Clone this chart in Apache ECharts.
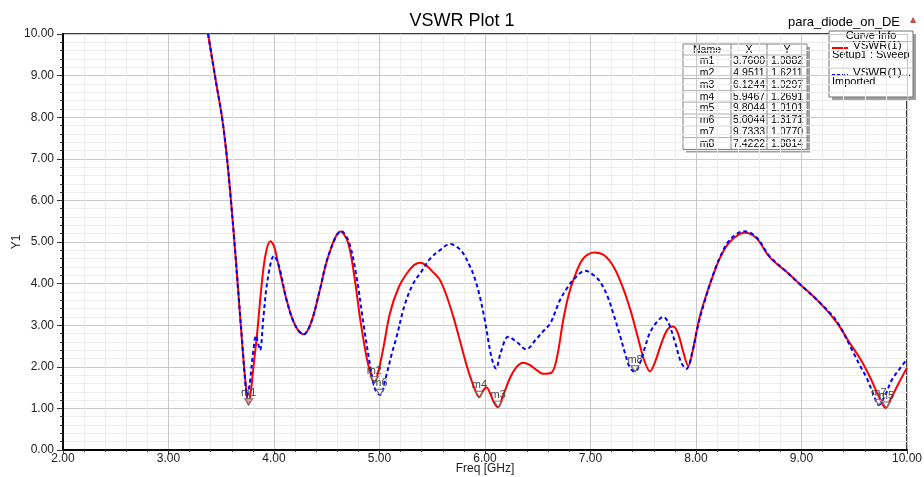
<!DOCTYPE html>
<html>
<head>
<meta charset="utf-8">
<script src="https://cdn.jsdelivr.net/npm/echarts@6/dist/echarts.min.js"></script>
<style>
  html, body { margin: 0; padding: 0; background: #fff; }
  #chart { width: 924px; height: 477px; }
</style>
</head>
<body>
<div id="chart"></div>
<script>
const seriesNames = ['VSWR(1)', 'VSWR(1)...'];
const seriesSources = ['Setup1 : Sweep', 'Imported'];

// [freq GHz, VSWR]
const sweepCurve = [
  [3.375, 10.0], [3.45, 8.85], [3.51, 7.95], [3.555, 7.0], [3.59, 6.05], [3.625, 5.0],
  [3.66, 3.85], [3.70, 2.5], [3.735, 1.5], [3.757, 1.09], [3.78, 1.4], [3.81, 2.1],
  [3.84, 2.8], [3.88, 3.9], [3.92, 4.7], [3.965, 5.02], [4.00, 4.9], [4.05, 4.35],
  [4.12, 3.6], [4.20, 3.0], [4.28, 2.78], [4.35, 3.05], [4.43, 3.8], [4.52, 4.7],
  [4.63, 5.25], [4.70, 5.0], [4.76, 4.2], [4.82, 3.1], [4.88, 2.2], [4.93, 1.7],
  [4.951, 1.62], [4.99, 1.9], [5.04, 2.5], [5.10, 3.3], [5.18, 3.9], [5.26, 4.25],
  [5.33, 4.45], [5.39, 4.5], [5.45, 4.42], [5.51, 4.27], [5.57, 4.1], [5.63, 3.75],
  [5.70, 3.2], [5.76, 2.65], [5.83, 2.0], [5.89, 1.55], [5.947, 1.27], [5.98, 1.42],
  [6.015, 1.50], [6.05, 1.35], [6.09, 1.12], [6.124, 1.03], [6.17, 1.3], [6.24, 1.75],
  [6.30, 2.0], [6.36, 2.1], [6.42, 2.05], [6.49, 1.92], [6.55, 1.83], [6.63, 1.86],
  [6.68, 2.2], [6.74, 3.1], [6.79, 3.7], [6.84, 4.1], [6.93, 4.6], [7.04, 4.75],
  [7.13, 4.68], [7.22, 4.4], [7.30, 3.95], [7.38, 3.35], [7.45, 2.7], [7.51, 2.15],
  [7.564, 1.89], [7.61, 2.1], [7.67, 2.55], [7.73, 2.9], [7.785, 2.97],
  [7.83, 2.8], [7.88, 2.35], [7.927, 2.02], [7.97, 2.4], [8.03, 3.15], [8.10, 3.75],
  [8.17, 4.25], [8.23, 4.63], [8.32, 5.0], [8.46, 5.22], [8.57, 5.1], [8.70, 4.63],
  [8.85, 4.3], [9.00, 3.95], [9.17, 3.55], [9.333, 3.07], [9.45, 2.6], [9.555, 2.2],
  [9.65, 1.75], [9.73, 1.3], [9.798, 1.01], [9.85, 1.25], [9.92, 1.6], [10.0, 1.98]
];

const importedCurve = [
  [3.375, 10.0], [3.45, 8.85], [3.51, 7.95], [3.555, 7.0], [3.59, 6.05], [3.625, 5.0],
  [3.66, 3.85], [3.70, 2.55], [3.725, 1.7], [3.745, 1.3], [3.77, 1.6], [3.80, 2.3],
  [3.83, 2.75], [3.85, 2.55], [3.868, 2.4], [3.90, 3.2], [3.94, 4.1], [4.00, 4.67],
  [4.05, 4.4], [4.12, 3.6], [4.20, 3.0], [4.28, 2.78], [4.35, 3.05], [4.43, 3.8],
  [4.52, 4.7], [4.64, 5.26], [4.71, 5.0], [4.78, 4.2], [4.85, 3.0], [4.92, 1.9],
  [4.96, 1.45], [5.004, 1.32], [5.06, 1.75], [5.12, 2.35], [5.16, 2.7], [5.24, 3.5],
  [5.32, 4.0], [5.40, 4.3], [5.48, 4.6], [5.57, 4.8], [5.67, 4.95], [5.75, 4.85],
  [5.80, 4.7], [5.86, 4.4], [5.90, 4.15], [5.95, 3.7], [6.00, 3.1], [6.06, 2.25],
  [6.104, 1.96], [6.15, 2.35], [6.22, 2.72], [6.30, 2.6], [6.39, 2.42], [6.48, 2.65],
  [6.55, 2.85], [6.62, 3.05], [6.71, 3.6], [6.78, 3.9], [6.84, 4.1], [6.95, 4.31],
  [7.03, 4.2], [7.09, 4.05], [7.16, 3.7], [7.22, 3.25], [7.28, 2.75], [7.33, 2.3],
  [7.37, 2.0], [7.42, 1.88], [7.47, 2.1], [7.52, 2.5], [7.56, 2.8], [7.62, 3.05],
  [7.69, 3.2], [7.74, 3.05], [7.80, 2.6], [7.86, 2.1], [7.91, 1.95], [7.96, 2.3],
  [8.02, 3.0], [8.08, 3.55], [8.16, 4.2], [8.23, 4.65], [8.32, 5.05], [8.455, 5.26],
  [8.57, 5.12], [8.70, 4.65], [8.85, 4.3], [9.00, 3.95], [9.17, 3.55], [9.333, 3.1],
  [9.49, 2.35], [9.56, 2.0], [9.62, 1.72], [9.68, 1.35], [9.733, 1.08], [9.79, 1.3],
  [9.86, 1.7], [9.93, 1.95], [10.0, 2.18]
];

// markers: name, X, Y, curve index (0 = sweep, 1 = imported)
const markerNames = ['m1', 'm2', 'm3', 'm4', 'm5', 'm6', 'm7', 'm8'];
const markerX = [3.7600, 4.9511, 6.1244, 5.9467, 9.8044, 5.0044, 9.7333, 7.4222];
const markerY = [1.0882, 1.6211, 1.0297, 1.2691, 1.0101, 1.3171, 1.0770, 1.8814];
const markerCurve = [0, 0, 0, 0, 0, 1, 1, 1];

const font = 'Liberation Sans, Arial, sans-serif';
const downTriangle = 'path://M0,0 L10,0 L5,8 Z';

const markPointsFor = (idx) => ({
  symbol: downTriangle,
  symbolSize: [8, 6],
  symbolOffset: [0, -3],
  silent: true,
  itemStyle: { color: 'rgba(255,255,255,0.5)', borderColor: '#666', borderWidth: 1 },
  label: { show: true, position: 'top', distance: 0, color: '#444', fontSize: 11, fontFamily: font, formatter: (p) => p.name },
  data: markerNames
    .map((name, i) => ({ name, coord: [markerX[i], markerY[i]], curve: markerCurve[i] }))
    .filter((m) => m.curve === idx)
    .map(({ name, coord }) => ({ name, coord })),
});

// marker table graphics
const tableLeft = 683, tableTop = 44, colW = [48, 36, 40], headH = 11, rowH = 11.8;
const tableW = colW[0] + colW[1] + colW[2];
const tableH = headH + rowH * markerNames.length;
const tableChildren = [
  { type: 'rect', shape: { x: 3, y: 3, width: tableW, height: tableH }, style: { fill: '#a0a0a0' } },
  { type: 'rect', shape: { x: 0, y: 0, width: tableW, height: tableH }, style: { fill: '#fff', stroke: '#808080', lineWidth: 1 } },
  { type: 'line', shape: { x1: colW[0], y1: 0, x2: colW[0], y2: tableH }, style: { stroke: '#808080' } },
  { type: 'line', shape: { x1: colW[0] + colW[1], y1: 0, x2: colW[0] + colW[1], y2: tableH }, style: { stroke: '#808080' } },
];
const headers = ['Name', 'X', 'Y'];
let cx = 0;
headers.forEach((h, c) => {
  tableChildren.push({ type: 'text', style: { text: h, x: cx + colW[c] / 2, y: headH / 2 + 0.5, align: 'center', verticalAlign: 'middle', font: `10.5px ${font}`, fill: '#000' } });
  cx += colW[c];
});
markerNames.forEach((name, r) => {
  const y0 = headH + rowH * r;
  tableChildren.push({ type: 'line', shape: { x1: 0, y1: y0, x2: tableW, y2: y0 }, style: { stroke: '#b0b0b0' } });
  const cells = [name, markerX[r].toFixed(4), markerY[r].toFixed(4)];
  let x = 0;
  cells.forEach((t, c) => {
    tableChildren.push({ type: 'text', style: { text: t, x: x + colW[c] / 2, y: y0 + rowH / 2 + 0.5, align: 'center', verticalAlign: 'middle', font: `10.5px ${font}`, fill: '#000' } });
    x += colW[c];
  });
});

// curve info box
const boxLeft = 829, boxTop = 31, boxW = 84, boxH = 66;
const legendChildren = [
  { type: 'rect', shape: { x: 3, y: 3, width: boxW, height: boxH }, style: { fill: '#a0a0a0' } },
  { type: 'rect', shape: { x: 0, y: 0, width: boxW, height: boxH }, style: { fill: '#fff', stroke: '#707070', lineWidth: 1 } },
  { type: 'text', style: { text: 'Curve Info', x: boxW / 2, y: 5, align: 'center', verticalAlign: 'middle', font: `11px ${font}`, fill: '#000' } },
  { type: 'line', shape: { x1: 0, y1: 10.5, x2: boxW, y2: 10.5 }, style: { stroke: '#c0c0c0' } },
  { type: 'line', shape: { x1: 3, y1: 17, x2: 19, y2: 17 }, style: { stroke: '#ff0000', lineWidth: 2 } },
  { type: 'text', style: { text: seriesNames[0], x: 24, y: 14.5, verticalAlign: 'middle', font: `11.5px ${font}`, fill: '#000' } },
  { type: 'text', style: { text: seriesSources[0], x: 3, y: 24, verticalAlign: 'middle', font: `11px ${font}`, fill: '#000' } },
  { type: 'line', shape: { x1: 0, y1: 37, x2: boxW, y2: 37 }, style: { stroke: '#c0c0c0' } },
  { type: 'line', shape: { x1: 3, y1: 44, x2: 19, y2: 44 }, style: { stroke: '#0000ff', lineWidth: 2, lineDash: [3, 2] } },
  { type: 'text', style: { text: seriesNames[1], x: 24, y: 42, verticalAlign: 'middle', font: `11.5px ${font}`, fill: '#000' } },
  { type: 'text', style: { text: seriesSources[1], x: 3, y: 50.5, verticalAlign: 'middle', font: `11px ${font}`, fill: '#000' } },
];

const chart = echarts.init(document.getElementById('chart'), null, { renderer: 'canvas' });

chart.setOption({
  backgroundColor: '#fff',
  animation: false,
  title: {
    text: 'VSWR Plot 1',
    left: 'center',
    top: 7,
    textStyle: { fontFamily: font, fontSize: 18, fontWeight: 'normal', color: '#000' },
  },
  grid: {
    left: 63, right: 17, top: 34, bottom: 27,
    containLabel: false,
    outerBoundsMode: 'none',
    show: true, borderColor: '#000', borderWidth: 1.5, backgroundColor: '#fff',
  },
  xAxis: {
    type: 'value',
    min: 2, max: 10, interval: 1,
    name: 'Freq [GHz]',
    nameLocation: 'middle',
    nameGap: 13,
    nameMoveOverlap: false,
    nameTextStyle: { fontFamily: font, fontSize: 12, color: '#222', verticalAlign: 'top' },
    axisLine: { show: true, onZero: false, lineStyle: { color: '#000', width: 2 } },
    axisTick: { show: true, length: 4, lineStyle: { color: '#333' } },
    minorTick: { show: true, splitNumber: 5, length: 2, lineStyle: { color: '#333' } },
    axisLabel: { color: '#222', fontFamily: font, fontSize: 12, margin: 3, formatter: (v) => v.toFixed(2) },
    splitLine: { show: true, lineStyle: { color: '#c8c8c8', width: 1 } },
    minorSplitLine: { show: true, lineStyle: { color: '#ececec', width: 1 } },
  },
  yAxis: {
    type: 'value',
    min: 0, max: 10, interval: 1,
    name: 'Y1',
    nameLocation: 'middle',
    nameGap: 40,
    nameMoveOverlap: false,
    nameTextStyle: { fontFamily: font, fontSize: 12, color: '#222' },
    axisLine: { show: true, lineStyle: { color: '#000', width: 2 } },
    axisTick: { show: true, length: 6, lineStyle: { color: '#333' } },
    minorTick: { show: true, splitNumber: 5, length: 3, lineStyle: { color: '#333' } },
    axisLabel: { color: '#222', fontFamily: font, fontSize: 12, margin: 9, formatter: (v) => v.toFixed(2) },
    splitLine: { show: true, lineStyle: { color: '#c8c8c8', width: 1 } },
    minorSplitLine: { show: true, lineStyle: { color: '#ececec', width: 1 } },
  },
  series: [
    {
      name: seriesNames[0],
      type: 'line',
      data: sweepCurve,
      showSymbol: false,
      smooth: 0.35,
      clip: true,
      lineStyle: { color: '#ff0000', width: 2 },
      markPoint: markPointsFor(0),
      z: 2,
    },
    {
      name: seriesNames[1],
      type: 'line',
      data: importedCurve,
      showSymbol: false,
      smooth: 0.35,
      clip: true,
      lineStyle: { color: '#0000ff', width: 2, type: [4, 3] },
      markPoint: markPointsFor(1),
      z: 3,
    },
  ],
  graphic: [
    { type: 'text', style: { text: 'para_diode_on_DE', x: 900, y: 22, align: 'right', verticalAlign: 'middle', font: `13px ${font}`, fill: '#000' } },
    { type: 'text', style: { text: '▲', x: 913, y: 20, align: 'center', verticalAlign: 'middle', font: `8px DejaVu Sans`, fill: '#c0504d' } },
    { type: 'group', x: tableLeft, y: tableTop, z: 100, children: tableChildren },
    { type: 'group', x: boxLeft, y: boxTop, z: 100, children: legendChildren },
  ],
});
</script>
</body>
</html>
